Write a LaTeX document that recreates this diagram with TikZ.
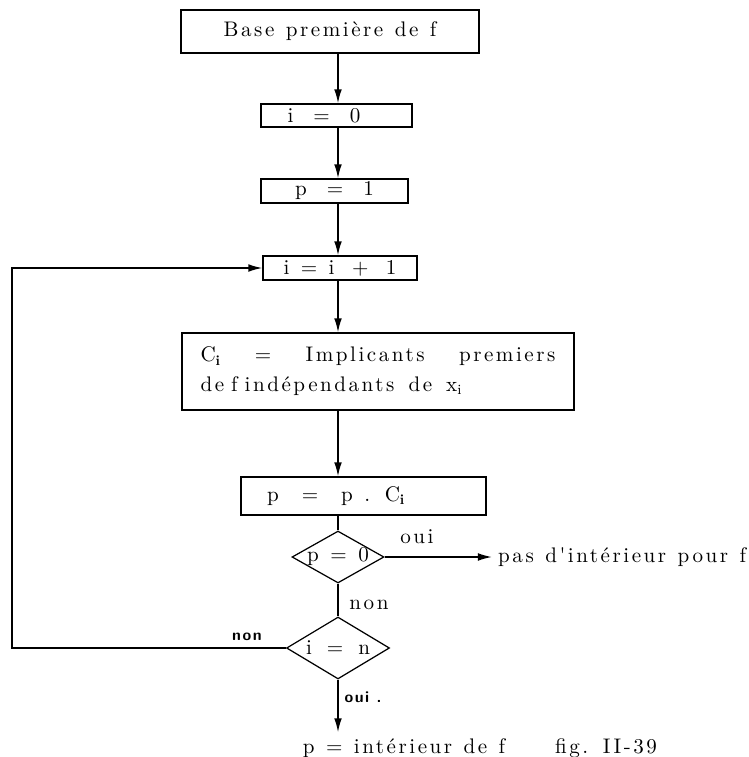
\documentclass[tikz,border=0pt]{standalone}
\usepackage{fontspec}
\usepackage{tikz}
\usetikzlibrary{shapes.geometric,arrows.meta}
\newfontfamily\espace{lmroman10-regular.otf}[LetterSpace=12,WordSpace=1.2]
\newfontfamily\espacegras{lmsans10-bold.otf}[LetterSpace=10]

\begin{document}
\begin{tikzpicture}[x=0.02cm,y=-0.02cm,every node/.style={font=\fontsize{12}{17}\espace},boite/.style={draw,line width=0.7pt,inner sep=0pt},choix/.style n args={2}{diamond,draw,line width=0.7pt,inner sep=-2pt,shape aspect=1.8,minimum width=#1,minimum height=#2},fl/.style={line width=0.9pt,-{Latex[length=8pt,width=4.4pt]}},trait/.style={line width=0.9pt},gras/.style={font=\fontsize{9}{11}\espacegras}]
\useasboundingbox (0,0) rectangle (749,757);
\coordinate (axe) at (338,0);
\coordinate (gauche) at (12,0);
% boites
\node[boite,minimum width=5.96cm,minimum height=0.86cm] (base) at (330,31.5) {Base première de f};
\node[boite,minimum width=3.02cm,minimum height=0.46cm] (init) at (336.5,115.5) {i\hspace{0.4cm}=\hspace{0.4cm}0\makebox[0.5cm]{}};
\node[boite,minimum width=2.94cm,minimum height=0.48cm] (pun) at (334.5,191) {p\hspace{0.4cm}=\hspace{0.4cm}1};
\node[boite,minimum width=3.08cm,minimum height=0.48cm] (incr) at (340,268) {i = i\hspace{0.35cm}+\hspace{0.35cm}1};
\node[boite,minimum width=7.84cm,minimum height=1.54cm,text width=7.1cm,align=left] (impl) at (378,371.5)
   {C$_{\mathbf{i}}$\hfill=\hfill Implicants\hfill premiers\\de f indépendants \ de \ x$_{\mathrm{i}}$};
\node[boite,minimum width=4.9cm,minimum height=0.76cm] (prod) at (363.5,496) {p \ = \ p . C$_{\mathbf{i}}$\makebox[1.1cm]{}};
% tests
\node[choix={1.84cm}{1.04cm}] (test0) at (338,557) {p = 0};
\node[choix={2.06cm}{1.24cm}] (testn) at (338,648) {i\hspace{0.3cm}=\hspace{0.3cm}n};
% sorties
\node[anchor=west] (vide) at (492,557) {pas d'intérieur pour f};
\node (fin) at (404,748) {p = intérieur de f};
\node (fig) at (606,748) {fig. II-39};
\node (oui0) at (417,537) {oui};
\node (non0) at (369,605) {non};
\node[gras] (nonn) at (247,637) {non};
\node[gras] (ouin) at (363,697) {oui .};
\foreach \a/\b in {base/init,init/pun,pun/incr,incr/impl,impl/prod} {
   \draw[fl] (\a.south -| axe) -- (\b.north -| axe);
}
\draw[trait] (prod.south -| axe) -- (test0.north);
\draw[trait] (test0.south) -- (testn.north);
\draw[fl] (test0.east) -- (vide.west);
\draw[fl] (testn.south) -- (fin.north -| axe);
\draw[fl] (testn.west) -- (testn.west -| gauche) |- (incr.west);
\end{tikzpicture}
\end{document}
